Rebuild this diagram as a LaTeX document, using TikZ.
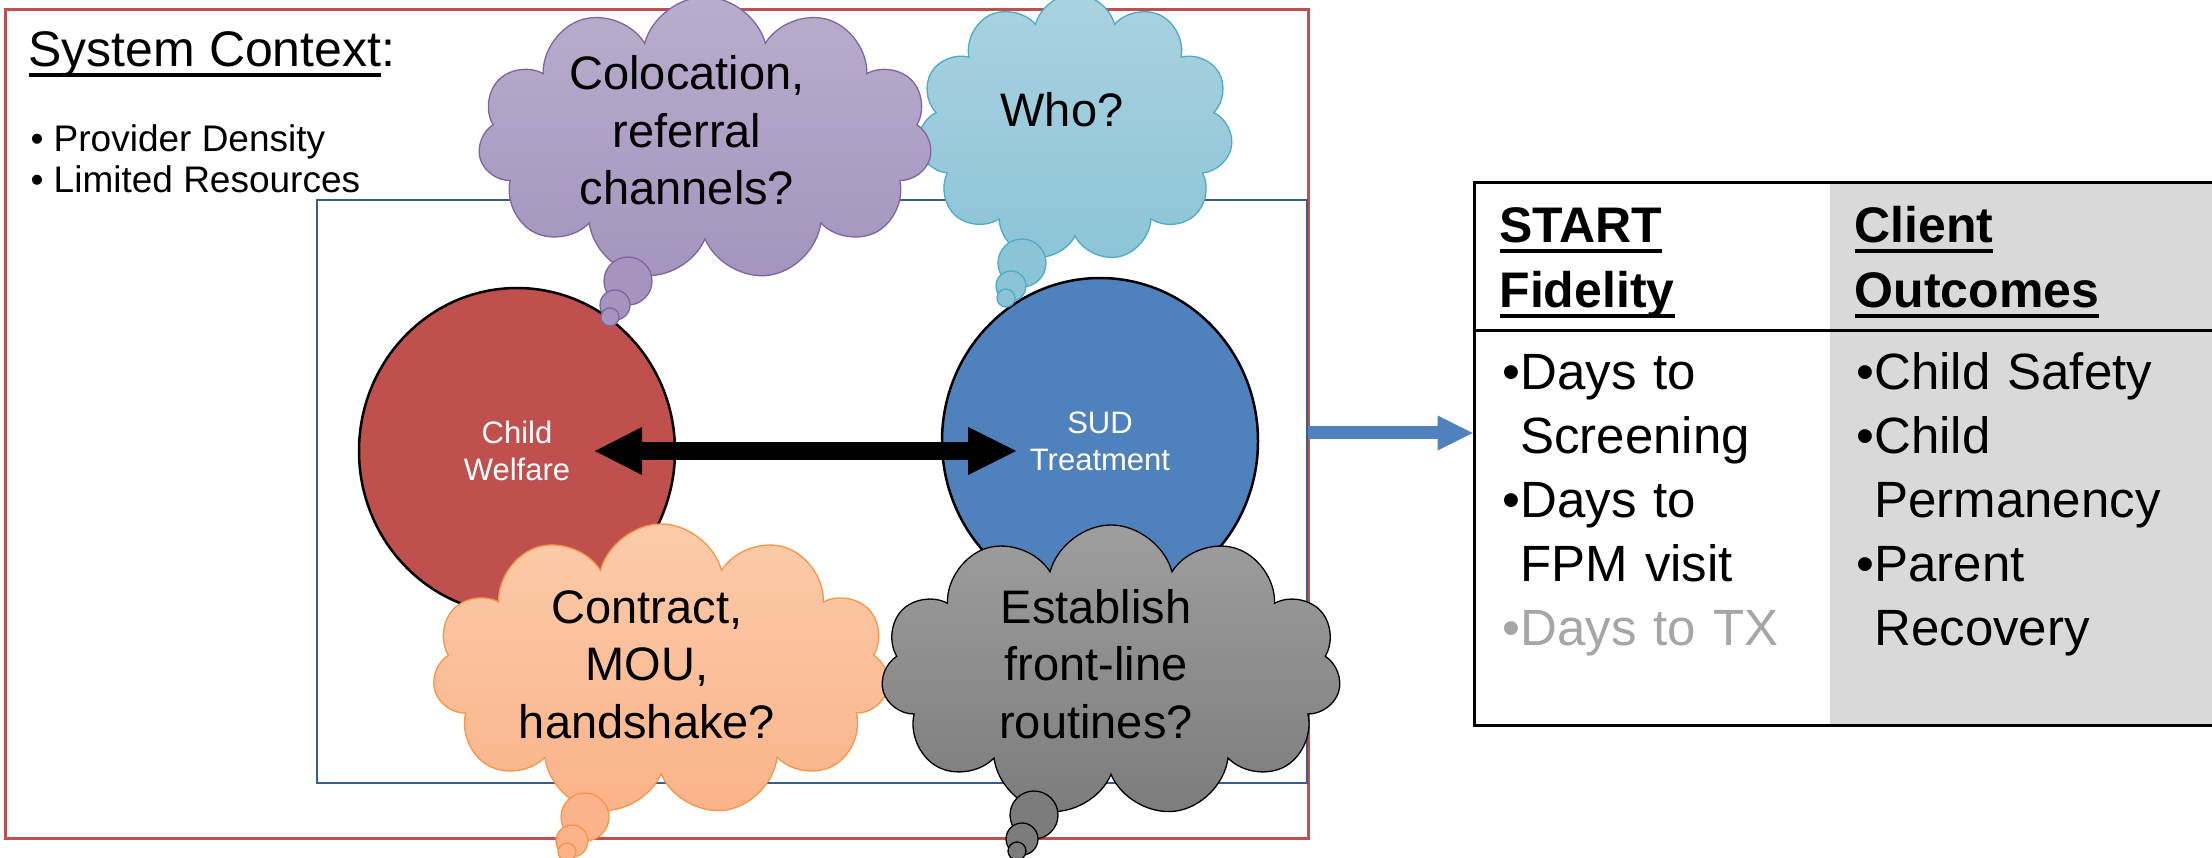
\documentclass[tikz,border=0pt]{standalone}
\usepackage{fontspec}
\setmainfont{Liberation Sans}
\usetikzlibrary{shapes,arrows.meta}

\definecolor{ctxred}{HTML}{C0504D}
\definecolor{ctxblue}{HTML}{385D8A}
\definecolor{sudblue}{HTML}{4F81BD}
\definecolor{purpletop}{HTML}{B9ADCC}
\definecolor{purplebot}{HTML}{A494BE}
\definecolor{purpleline}{HTML}{8064A2}
\definecolor{cyantop}{HTML}{AAD2E0}
\definecolor{cyanbot}{HTML}{8CC4D7}
\definecolor{cyanline}{HTML}{4BACC6}
\definecolor{orangetop}{HTML}{FBCBA9}
\definecolor{orangebot}{HTML}{FAB38A}
\definecolor{orangeline}{HTML}{F79646}
\definecolor{graytop}{HTML}{9E9E9E}
\definecolor{graybot}{HTML}{7C7C7C}
\definecolor{colgray}{HTML}{D9D9D9}
\definecolor{txgray}{HTML}{A6A6A6}

\newcommand{\fsz}[2]{\fontsize{#1}{#2}\selectfont}
\newsavebox{\ulnbox}
\newcommand{\uln}[1]{\leavevmode\sbox{\ulnbox}{#1}\rlap{\rule[-0.2em]{\wd\ulnbox}{0.07em}}\usebox{\ulnbox}}

\begin{document}
\begin{tikzpicture}[x=1pt,y=-1pt]
\tikzstyle{thought}=[cloud, cloud puffs=11, cloud ignores aspect, inner sep=0pt, line width=1.3pt]
\tikzstyle{bubble}=[line width=1.3pt]
\tikzstyle{qtext}=[text width=330pt, align=center, anchor=base, font=\fsz{47}{57.5}]
\tikzstyle{agency}=[ellipse, draw, line width=2.5pt, minimum width=316pt, minimum height=326pt,
	text=white, align=center, font=\fsz{31}{37}]
\tikzstyle{tblhead}=[anchor=base west, text width=330pt, align=left, font=\bfseries\fsz{50}{65}]
\tikzstyle{tblbody}=[anchor=base west, text width=340pt, align=left, font=\fsz{51}{64}]

\useasboundingbox (0,0) rectangle (2212,858);
\fill[white] (0,0) rectangle (2212,858);

% frames
\node[draw=ctxred, line width=3pt, minimum width=1303pt, minimum height=828pt, inner sep=0] (context) at (656.5,424) {};
\node[draw=ctxblue, line width=2.5pt, minimum width=990pt, minimum height=583pt, inner sep=0] (partners) at (812,491.5) {};

\node[anchor=base west, font=\fsz{50}{60}] (ctxtitle) at (25,67) {\uln{System Context}:};
\node[anchor=base west, font=\fsz{37}{41}] (density) at (27,152) {\textbullet\ Provider Density};
\node[anchor=base west, font=\fsz{37}{41}] (resources) at (27,193) {\textbullet\ Limited Resources};

% the two systems
\node[agency, fill=ctxred] (cw) at (517,451) {Child\\Welfare};
\node[agency, fill=sudblue] (sud) at (1100,441) {SUD\\Treatment};
\draw[line width=17pt, {Triangle[length=47pt,width=48pt,line width=0pt]}-{Triangle[length=48pt,width=48pt,line width=0pt]}]
	([xshift=78pt]cw.center) -- ([xshift=-84pt]cw.center -| sud.center);

% thought clouds
\node[thought, minimum width=316pt, minimum height=268pt, draw=cyanline, top color=cyantop, bottom color=cyanbot] (who) at (1075,128) {};
\path[bubble, draw=cyanline, fill=cyanbot] (1022,263) circle [radius=24];
\path[bubble, draw=cyanline, fill=cyanbot] (1011,286) circle [radius=15];
\path[bubble, draw=cyanline, fill=cyanbot] (1006,298) circle [radius=9];
\node[qtext] (whoq) at (1062,127) {Who?};

\node[thought, minimum width=454pt, minimum height=284pt, draw=purpleline, top color=purpletop, bottom color=purplebot] (coloc) at (705,139) {};
\path[bubble, draw=purpleline, fill=purplebot] (628,281) circle [radius=24];
\path[bubble, draw=purpleline, fill=purplebot] (615,305) circle [radius=15];
\path[bubble, draw=purpleline, fill=purplebot] (610,317) circle [radius=9];
\node[qtext] (colocq) at (687,90) {Colocation,\\referral\\channels?};

\node[thought, minimum width=457pt, minimum height=292pt, draw=orangeline, top color=orangetop, bottom color=orangebot] (contract) at (661,670) {};
\path[bubble, draw=orangeline, fill=orangebot] (585,817) circle [radius=24];
\path[bubble, draw=orangeline, fill=orangebot] (572,841) circle [radius=16];
\path[bubble, draw=orangeline, fill=orangebot] (567,852) circle [radius=9];
\node[qtext] (contractq) at (647,623) {Contract,\\MOU,\\handshake?};

\node[thought, minimum width=460pt, minimum height=292pt, draw=black, top color=graytop, bottom color=graybot] (routine) at (1111,671) {};
\path[bubble, draw=black, fill=graybot] (1034,815) circle [radius=24];
\path[bubble, draw=black, fill=graybot] (1022,839) circle [radius=16];
\path[bubble, draw=black, fill=graybot] (1017,851) circle [radius=9];
\node[qtext] (routineq) at (1096,623) {Establish\\front-line\\routines?};

% results table
\fill[colgray] (1830,183) rectangle (2216,725);
\node[draw, line width=3pt, minimum width=742pt, minimum height=542pt, inner sep=0] (tbl) at (1845,454) {};
\coordinate (hdr) at (1474,331);
\draw[line width=3pt] (tbl.west |- hdr) -- (tbl.east |- hdr);
\draw[line width=13pt, sudblue, -{Triangle[length=35pt,width=35pt,line width=0pt]}]
	([yshift=58.5pt]partners.east) -- ([yshift=58.5pt]partners.east -| tbl.west);

\node[tblhead] (fidhead) at (1496,243) {\uln{START}\\\uln{Fidelity}};
\node[tblhead] (outhead) at (1851,243) {\uln{Client}\\\uln{Outcomes}};
\node[tblbody] (fidlist) at (1499,390) {\textbullet Days to\\\phantom{\textbullet}Screening\\\textbullet Days to\\\phantom{\textbullet}FPM visit\\\textcolor{txgray}{\textbullet Days to TX}};
\node[tblbody] (outlist) at (1853,390) {\textbullet Child Safety\\\textbullet Child\\\phantom{\textbullet}Permanency\\\textbullet Parent\\\phantom{\textbullet}Recovery};
\end{tikzpicture}
\end{document}
